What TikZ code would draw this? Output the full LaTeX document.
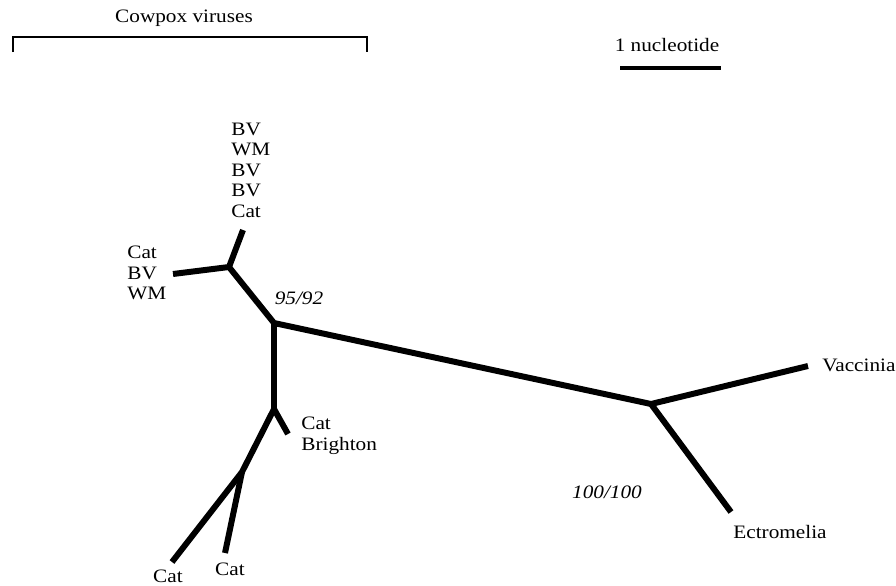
\documentclass[tikz,border=0pt]{standalone}
\usepackage{fontspec}
\setmainfont{Liberation Serif}[FakeStretch=1.12]
\usepackage{tikz}

\begin{document}
\begin{tikzpicture}[x=0.02cm, y=-0.02cm,
    branch/.style={line width=3.4pt, line join=round},
    lbl/.style={font=\fontsize{10.8}{11.7}\selectfont, inner sep=0pt, align=left}]
    \useasboundingbox (0,0) rectangle (896,585);

    % bracket and scale
    \draw[line width=1.2pt] (13,52) -- (13,37) -- (367,37) -- (367,52);
    \node[lbl] (cowpox) at (184,18) {Cowpox viruses};
    \coordinate (sa) at (620,68);
    \coordinate (sb) at (721,68);
    \draw[line width=2.6pt] (sa) -- (sb);
    \node[lbl] (scale) at (667,45) {1 nucleotide};

    % inner nodes
    \coordinate (a) at (229,267);
    \coordinate (r) at (274,323);
    \coordinate (b) at (274,409);
    \coordinate (c) at (242,472);
    \coordinate (e) at (651,404);

    % tips
    \coordinate (t1) at (243,230);
    \coordinate (t2) at (173,274);
    \coordinate (t3) at (288,434);
    \coordinate (t4) at (172,562);
    \coordinate (t5) at (225,553);
    \coordinate (t6) at (808,366);
    \coordinate (t7) at (731,512);

    \draw[branch] (t1) -- (a) -- (t2);
    \draw[branch] (a) -- (r) -- (e);
    \draw[branch] (r) -- (b) -- (t3);
    \draw[branch] (b) -- (c) -- (t4);
    \draw[branch] (c) -- (t5);
    \draw[branch] (t6) -- (e) -- (t7);

    \node[lbl, anchor=west] (l1) at (231,170) {BV\\WM\\BV\\BV\\Cat};
    \node[lbl, anchor=west] (l2) at (127,273) {Cat\\BV\\WM};
    \node[lbl, anchor=west] (l3) at (301,436) {Cat\\Brighton};
    \node[lbl] (l4) at (168,576) {Cat};
    \node[lbl] (l5) at (230,569) {Cat};
    \node[lbl, anchor=west] (l6) at (822,365) {Vaccinia};
    \node[lbl] (l7) at (780,532) {Ectromelia};
    \node[lbl, font=\fontsize{10.8}{11.7}\selectfont\itshape] (bs1) at (299,298) {95/92};
    \node[lbl, font=\fontsize{10.8}{11.7}\selectfont\itshape] (bs2) at (607,492) {100/100};

\end{tikzpicture}
\end{document}
